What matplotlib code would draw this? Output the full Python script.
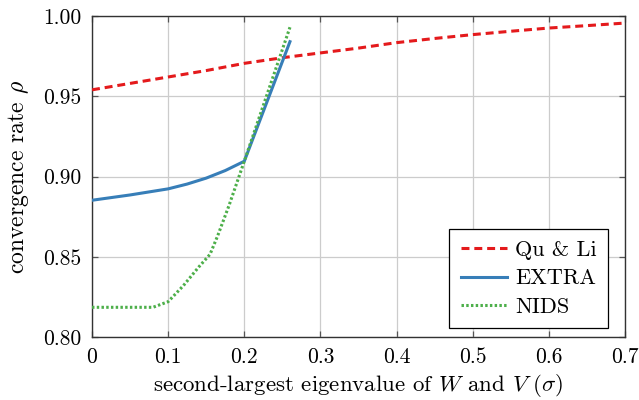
import matplotlib
matplotlib.use('Agg')
import matplotlib.pyplot as plt

# data
x_qu = [0.0, 0.05, 0.1, 0.15, 0.2, 0.25, 0.3, 0.35, 0.4, 0.45, 0.5, 0.55, 0.6, 0.65, 0.7]
rho_qu = [0.954, 0.958, 0.962, 0.966, 0.9705, 0.974, 0.977, 0.980, 0.9834, 0.986, 0.9884, 0.9905, 0.9925, 0.994, 0.9956]

x_extra = [0.0, 0.05, 0.1, 0.125, 0.15, 0.175, 0.2, 0.26]
rho_extra = [0.8852, 0.8885, 0.8923, 0.8953, 0.899, 0.9037, 0.9095, 0.984]

x_nids = [0.0, 0.08, 0.1, 0.12, 0.14, 0.155, 0.165, 0.18, 0.2, 0.26]
rho_nids = [0.8185, 0.8185, 0.822, 0.832, 0.8435, 0.8515, 0.863, 0.882, 0.9095, 0.993]

xticks = [0, 0.1, 0.2, 0.3, 0.4, 0.5, 0.6, 0.7]
xticklabels = ['0', '0.1', '0.2', '0.3', '0.4', '0.5', '0.6', '0.7']
yticks = [0.80, 0.85, 0.90, 0.95, 1.00]
yticklabels = ['0.80', '0.85', '0.90', '0.95', '1.00']

plt.rcParams['font.family'] = 'cmr10'
plt.rcParams['mathtext.fontset'] = 'cm'
plt.rcParams['axes.formatter.use_mathtext'] = True
plt.rcParams['font.size'] = 15.5

fig = plt.figure(figsize=(6.39, 4.0), dpi=100)
ax = fig.add_axes([0.144, 0.1575, 0.834, 0.8025])

lw = 2.2
ax.plot(x_qu, rho_qu, color='#e41a1c', lw=lw, dashes=(2.6, 1.6), label='Qu & Li', zorder=3)
ax.plot(x_extra, rho_extra, color='#377eb8', lw=lw, label='EXTRA', zorder=3)
ax.plot(x_nids, rho_nids, color='#4daf4a', lw=lw, dashes=(0.8, 0.75), label='NIDS', zorder=3)

ax.set_xlim(0, 0.7)
ax.set_ylim(0.80, 1.00)
ax.set_xticks(xticks)
ax.set_xticklabels(xticklabels)
ax.set_yticks(yticks)
ax.set_yticklabels(yticklabels)
ax.grid(True, color='#cccccc', lw=0.9)
ax.set_axisbelow(True)
ax.tick_params(axis='both', direction='in', length=4, width=0.9, color='#555555',
               top=True, right=True, pad=7.5, labelsize=15.5)
for s in ax.spines.values():
    s.set_color('#333333')
    s.set_linewidth(1.0)

ax.set_xlabel(r'second-largest eigenvalue of $W$ and $V$ ($\sigma$)', fontsize=16.5, labelpad=4)
ax.set_ylabel(r'convergence rate $\rho$', fontsize=17, labelpad=9)

leg = ax.legend(loc='lower right', bbox_to_anchor=(0.968, 0.028), fancybox=False,
                edgecolor='black', framealpha=1, handlelength=2.1, borderpad=0.5,
                labelspacing=0.4, handletextpad=0.35, borderaxespad=0, fontsize=16)
leg.get_frame().set_linewidth(0.9)

plt.savefig('out.png', dpi=100)
